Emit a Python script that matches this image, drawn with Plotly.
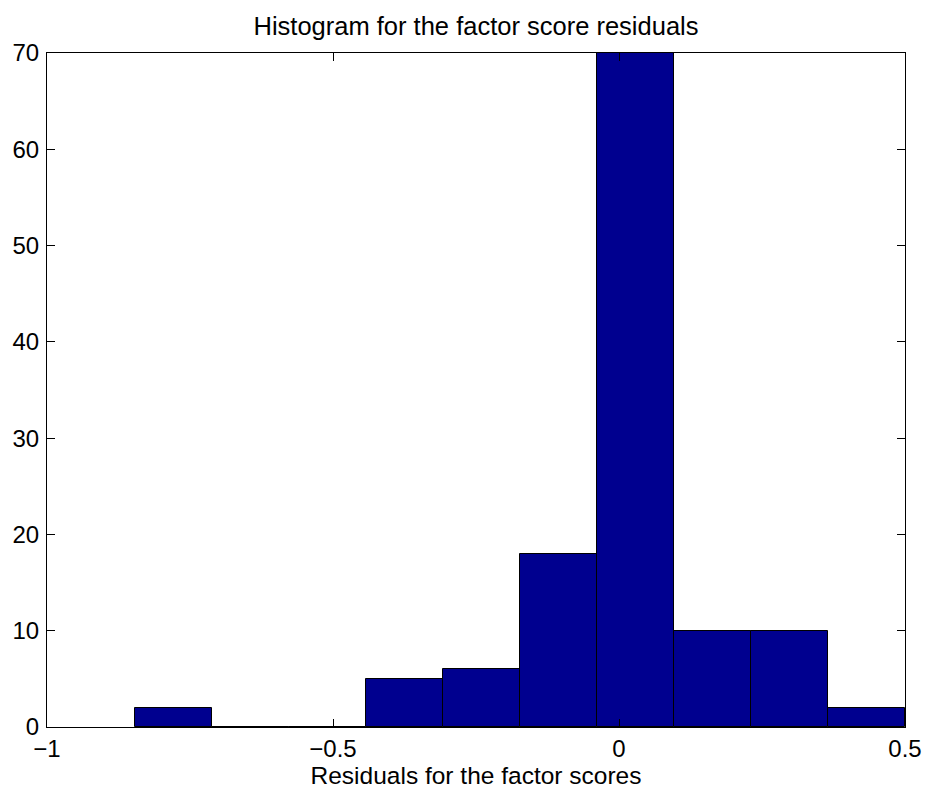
import plotly.graph_objects as go

bin_edges = [-0.846, -0.7115, -0.577, -0.4425, -0.308, -0.1735, -0.039, 0.0955, 0.230, 0.365, 0.5]
counts = [2, 0, 0, 5, 6, 18, 70, 10, 10, 2]
x_ticks = [-1, -0.5, 0, 0.5]
x_tick_labels = ["\u22121", "\u22120.5", "0", "0.5"]
y_ticks = [0, 10, 20, 30, 40, 50, 60, 70]

centers = [(a + b) / 2 for a, b in zip(bin_edges[:-1], bin_edges[1:])]
widths = [b - a for a, b in zip(bin_edges[:-1], bin_edges[1:])]

fig = go.Figure(go.Bar(
    x=centers, y=counts, width=widths,
    marker=dict(color="#00008F", line=dict(color="black", width=1)),
))

font = "Liberation Sans, Arial, sans-serif"
fig.update_layout(
    width=925, height=792,
    margin=dict(l=39, r=28, t=45, b=73, autoexpand=False),
    plot_bgcolor="white", paper_bgcolor="white",
    showlegend=False,
    bargap=0,
    font=dict(family=font, size=24, color="black"),
    title=dict(text="Histogram for the factor score residuals", x=0.5, xanchor="center",
               xref="paper",
               y=0.977, yanchor="middle", font=dict(size=25.5, family=font, color="black")),
)
fig.update_xaxes(
    range=[-1, 0.5], tickvals=x_ticks, ticktext=x_tick_labels,
    ticks="inside", ticklen=8, tickcolor="black", tickwidth=1,
    showline=True, linecolor="black", linewidth=1, mirror="ticks",
    showgrid=False, zeroline=False, automargin=False,
    title=dict(text="Residuals for the factor scores", font=dict(size=24.5), standoff=0),
    tickfont=dict(size=24), ticklabelstandoff=0,
)
fig.update_yaxes(
    range=[0, 70], tickvals=y_ticks,
    ticks="inside", ticklen=8, tickcolor="black", tickwidth=1,
    showline=True, linecolor="black", linewidth=1, mirror="ticks",
    showgrid=False, zeroline=False, automargin=False,
    tickfont=dict(size=24), ticklabelstandoff=2,
)
fig.write_html("out.html")
